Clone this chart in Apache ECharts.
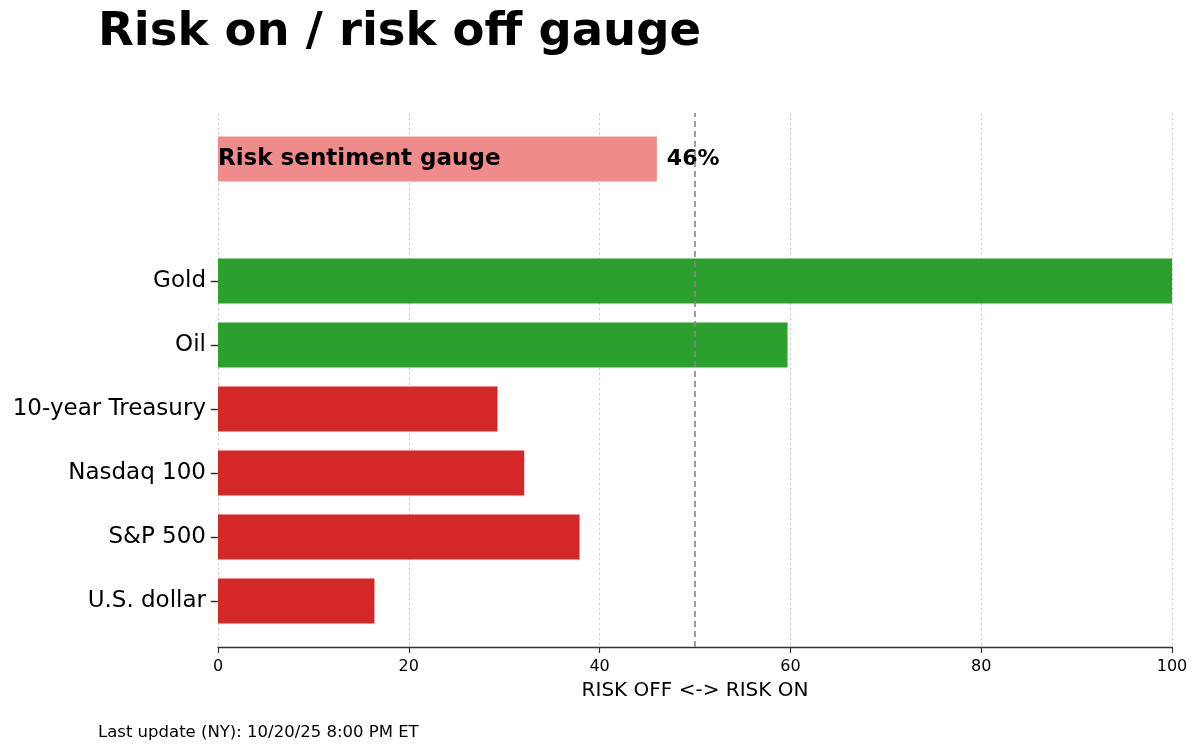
<!DOCTYPE html>
<html>
<head>
<meta charset="utf-8">
<script src="https://cdn.jsdelivr.net/npm/echarts@6/dist/echarts.min.js"></script>
<style>html,body{margin:0;padding:0;background:#fff}#c{width:1200px;height:752px}</style>
</head>
<body>
<div id="c"></div>
<script>
const titleText = 'Risk on / risk off gauge';
const footerText = 'Last update (NY): 10/20/25 8:00 PM ET';
const axisName = 'RISK OFF <-> RISK ON';
const categories = ['Gold', 'Oil', '10-year Treasury', 'Nasdaq 100', 'S&P 500', 'U.S. dollar'];
const values = [100, 59.7, 29.3, 32.1, 37.9, 16.4];
const riskOn = [true, true, false, false, false, false];
const gaugeLabel = 'Risk sentiment gauge';
const gaugeValue = 46;
const neutralLine = 50;
const xTicks = [0, 20, 40, 60, 80, 100];

const FONT = 'DejaVu Sans';
const GREEN = '#2ca02c', RED = '#d62728', PINK = '#f08b8b';

const chart = echarts.init(document.getElementById('c'), null, {renderer: 'canvas'});
const L = 218, R = 28;
const xBase = {type: 'value', min: xTicks[0], max: xTicks[xTicks.length - 1], interval: 20};

chart.setOption({
  animation: false,
  backgroundColor: '#fff',
  textStyle: {fontFamily: FONT},
  title: {
    text: titleText, left: 98, top: 9, padding: 0,
    textStyle: {fontFamily: FONT, fontSize: 46.5, fontWeight: 'bold', color: '#000'}
  },
  graphic: [{
    type: 'text', left: 98, top: 724,
    style: {text: footerText, fontFamily: FONT, fontSize: 16.5, fill: '#000'}
  }],
  grid: [
    {left: L, right: R, top: 113, bottom: 105},
    {left: L, right: R, top: 113, height: 92},
    {left: L, right: R, top: 249, height: 384}
  ],
  xAxis: [
    Object.assign({}, xBase, {
      gridIndex: 0,
      name: axisName, nameLocation: 'middle', nameGap: 34,
      nameTextStyle: {fontFamily: FONT, fontSize: 20, color: '#000'},
      axisLine: {show: true, lineStyle: {color: '#333', width: 1.3}},
      axisTick: {show: true, length: 6, lineStyle: {color: '#333', width: 1.2}},
      axisLabel: {fontFamily: FONT, fontSize: 16, color: '#000', margin: 12},
      splitLine: {show: true, lineStyle: {color: '#cccccc', type: [2, 3], width: 1}}
    }),
    Object.assign({}, xBase, {gridIndex: 1, show: false}),
    Object.assign({}, xBase, {gridIndex: 2, show: false})
  ],
  yAxis: [
    {type: 'value', gridIndex: 0, min: 0, max: 1, show: false},
    {type: 'category', gridIndex: 1, data: [gaugeLabel], show: false},
    {
      type: 'category', gridIndex: 2, data: categories, inverse: true,
      axisLine: {show: false},
      axisTick: {show: true, alignWithLabel: true, length: 7, lineStyle: {color: '#222', width: 1.4}},
      axisLabel: {fontFamily: FONT, fontSize: 23, color: '#000', margin: 12, padding: [4, 0, 0, 0]},
      splitLine: {show: false}
    }
  ],
  series: [
    {
      type: 'line', xAxisIndex: 0, yAxisIndex: 0, data: [], silent: true,
      markLine: {
        silent: true, symbol: 'none', label: {show: false},
        lineStyle: {color: '#888', type: [6, 4], width: 1.6},
        data: [{xAxis: neutralLine}]
      }
    },
    {
      type: 'bar', xAxisIndex: 1, yAxisIndex: 1, barWidth: 45,
      data: [gaugeValue], itemStyle: {color: PINK},
      label: {show: true, position: 'insideLeft', distance: 0, formatter: gaugeLabel, padding: [2, 0, 0, 0],
        fontFamily: FONT, fontSize: 23, fontWeight: 'bold', color: '#000'}
    },
    {
      type: 'bar', xAxisIndex: 1, yAxisIndex: 1, barWidth: 45, barGap: '-100%',
      data: [gaugeValue], itemStyle: {color: 'rgba(0,0,0,0)'},
      label: {show: true, position: 'right', distance: 10, formatter: gaugeValue + '%', padding: [2, 0, 0, 0],
        fontFamily: FONT, fontSize: 22, fontWeight: 'bold', color: '#000'}
    },
    {
      type: 'bar', xAxisIndex: 2, yAxisIndex: 2, barWidth: 45,
      data: values.map((v, i) => ({value: v, itemStyle: {color: riskOn[i] ? GREEN : RED}}))
    }
  ]
});
</script>
</body>
</html>
